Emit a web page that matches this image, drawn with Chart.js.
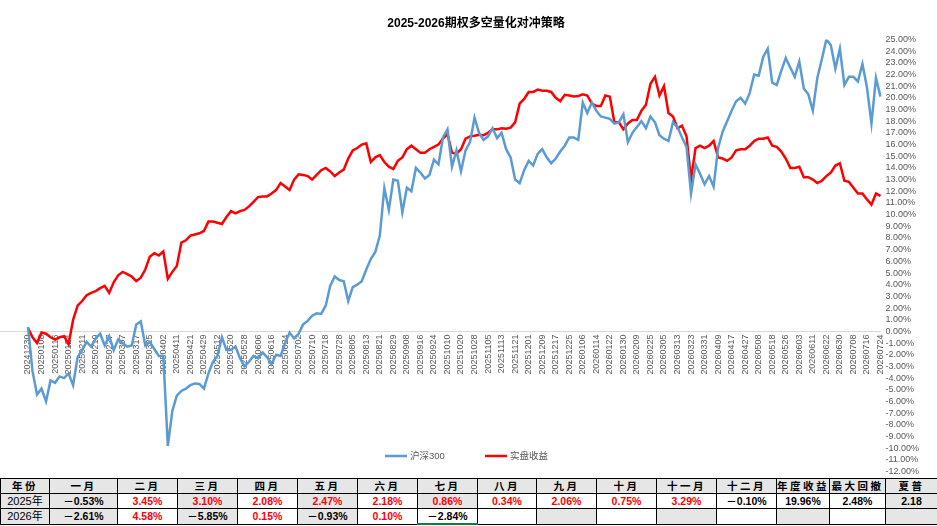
<!DOCTYPE html>
<html lang="zh">
<head>
  <meta charset="utf-8">
  <title>2025-2026期权多空量化对冲策略</title>
  <style type="text/css">
    body {
      margin: 0;
      background-color: #ffffff;
      font-family: 'Liberation Sans', 'Noto Sans CJK SC', sans-serif;
    }
    #wrap {
      position: absolute;
      left: 0;
      top: 0;
      width: 937px;
      height: 482px;
    }
    #tbl {
      position: absolute;
      left: 0;
      top: 478px;
      width: 937px;
      border-collapse: collapse;
      table-layout: fixed;
      background-color: #ffffff;
    }
    #tbl td {
      height: 14px;
      padding: 0;
      border: 1px solid #000000;
      text-align: center;
      font-weight: bold;
      font-size: 10.5px;
      line-height: 14px;
      white-space: nowrap;
      overflow: hidden;
    }
    #tbl tr.head td {
      background-color: #e6e6e6;
      font-family: 'Noto Sans CJK SC', sans-serif;
      font-size: 10.5px;
      letter-spacing: 2.5px;
    }
    #tbl td.year {
      font-weight: normal;
      font-size: 11px;
      font-family: 'Liberation Sans', 'Noto Sans CJK SC', sans-serif;
      letter-spacing: 0;
    }
    #tbl td.gray { background-color: #e6e6e6; }
    #tbl td.pos { color: #ff0000; }
    #tbl td.sel { border-bottom: 2px solid #107c41; }
  </style>
  <script src="https://cdn.jsdelivr.net/npm/chart.js@4.4.0/dist/chart.umd.min.js"></script>
</head>
<body>
  <div id="wrap"><canvas id="graph"></canvas></div>
  <table id="tbl"></table>
  <script>
    // x axis tick labels (one per 3 points)
    const dateTicks = ['20241230','20250108','20250116','20250124','20250211','20250219','20250227','20250307','20250317','20250325',
      '20250402','20250411','20250421','20250429','20250512','20250520','20250528','20250606','20250616','20250624',
      '20250702','20250710','20250718','20250728','20250805','20250813','20250821','20250829','20250908','20250916',
      '20250924','20251010','20251020','20251028','20251105','20251113','20251121','20251201','20251209','20251217',
      '20251225','20260106','20260114','20260122','20260130','20260209','20260225','20260305','20260313','20260323',
      '20260331','20260409','20260417','20260427','20260508','20260518','20260526','20260603','20260611','20260622',
      '20260630','20260708','20260716','20260724'];

    // 沪深300 (%)
    const hs300 = [0.4,-3.4,-5.4,-4.9,-6.0,-4.2,-4.4,-3.85,-4.0,-3.6,
      -4.6,-2.2,-1.6,-0.9,-1.3,-0.6,-0.2,-1.2,-0.4,-1.6,
      -0.7,-1.0,-1.3,-1.2,0.6,0.86,-1.2,-0.9,-1.5,-2.1,
      -2.1,-9.8,-6.8,-5.5,-5.1,-4.9,-4.6,-4.45,-4.5,-4.9,
      -3.6,-2.6,-2.1,-0.5,-1.6,-1.6,-1.3,-2.3,-3.0,-2.6,
      -2.1,-2.3,-1.8,-2.2,-2.8,-2.0,-2.1,-1.0,-0.1,-0.6,
      -0.2,0.6,0.9,1.35,1.55,1.5,2.2,3.9,4.7,4.4,
      4.3,2.6,3.8,4.0,4.3,5.3,6.2,6.8,8.2,12.27,
      10.4,13.0,12.9,10.2,12.3,12.0,14.0,13.6,13.1,13.4,
      14.7,14.3,16.6,17.3,14.1,15.5,13.7,15.5,16.2,18.3,
      17.0,16.4,16.7,17.4,16.55,17.0,15.6,14.9,13.0,12.7,
      13.8,14.6,14.2,15.2,15.6,14.9,14.4,14.8,15.4,15.9,
      16.6,16.6,16.4,19.6,18.7,19.6,18.9,18.4,18.3,18.2,
      17.8,17.9,18.6,16.2,17.0,17.5,18.0,17.4,18.4,17.9,
      16.8,16.5,16.3,17.9,17.5,16.6,15.8,11.8,14.3,13.5,
      12.6,13.3,12.4,15.7,17.1,18.0,18.9,19.7,20.0,19.5,
      20.4,22.0,21.9,23.5,24.2,21.3,21.1,22.3,23.4,22.6,
      21.8,23.1,20.8,20.3,18.9,21.7,23.3,25.0,24.5,22.5,
      24.2,21.1,21.8,21.8,21.4,22.9,20.9,17.8,21.7,20.1];

    // 实盘收益 (%)
    const live = [0.3,-0.5,-1.0,-0.1,-0.2,-0.5,-0.7,-0.5,-0.4,-1.1,
      1.0,2.2,2.6,3.1,3.3,3.45,3.7,3.9,3.3,4.2,
      4.8,5.1,4.9,4.7,4.3,4.6,5.3,6.4,6.7,6.5,
      6.85,4.5,5.1,5.6,7.6,7.8,8.2,8.3,8.4,8.6,
      9.4,9.4,9.3,9.2,9.8,10.3,10.1,10.3,10.4,10.7,
      11.1,11.5,11.56,11.56,11.8,12.1,12.7,12.4,12.1,13.0,
      13.45,13.4,13.3,13.0,13.4,13.8,14.0,13.7,13.3,13.6,
      13.85,14.8,15.5,15.7,16.0,16.1,14.5,14.9,15.1,14.5,
      14.1,13.9,14.6,14.9,15.6,15.9,15.6,15.3,15.3,15.6,
      15.8,16.0,16.5,16.9,15.3,15.2,15.6,16.5,16.7,16.75,
      16.84,16.8,17.0,17.3,17.3,17.4,17.35,17.45,17.9,19.5,
      19.9,20.5,20.5,20.7,20.6,20.6,20.5,20.0,19.7,20.26,
      20.2,20.12,20.15,20.3,20.2,19.5,19.3,19.3,20.2,20.1,
      17.9,17.9,17.3,17.8,18.1,18.1,18.9,19.4,21.2,21.8,
      20.2,21.0,18.7,18.4,17.4,17.6,16.7,13.0,15.7,15.9,
      15.7,15.9,16.3,14.9,14.8,14.6,14.9,15.5,15.6,15.6,
      15.9,16.3,16.5,16.5,16.6,15.9,15.8,15.4,14.8,14.0,
      14.0,14.1,13.2,13.2,13.0,12.7,12.9,13.3,13.6,14.2,
      14.4,12.9,12.8,12.3,11.8,11.8,11.3,10.85,11.8,11.6];

    // monthly table
    const months = ['一月','二月','三月','四月','五月','六月','七月','八月','九月','十月','十一月','十二月'];
    const statNames = ['年度收益','最大回撤','夏普'];
    const ret2025 = [-0.53, 3.45, 3.10, 2.08, 2.47, 2.18, 0.86, 0.34, 2.06, 0.75, 3.29, -0.10];
    const ret2026 = [-2.61, 4.58, -5.85, 0.15, -0.93, 0.10, -2.84];
    const stats2025 = ['19.96%', '2.48%', '2.18'];

    var labels = [];
    for (var i = 0; i < hs300.length; i++) {
      labels.push(i % 3 === 0 ? dateTicks[i / 3] : '');
    }

    const overlay = {
      id: 'overlay',
      beforeDatasetsDraw(chart) {
        const ctx = chart.ctx;
        const y0 = chart.scales.y.getPixelForValue(0);
        ctx.save();
        ctx.strokeStyle = '#d9d9d9';
        ctx.lineWidth = 1;
        ctx.beginPath();
        ctx.moveTo(0, Math.round(y0) + 0.5);
        ctx.lineTo(chart.chartArea.right, Math.round(y0) + 0.5);
        ctx.stroke();
        ctx.restore();
      },
      afterDraw(chart) {
        // legend below the lines, as in the sheet
        const ctx = chart.ctx;
        const items = [
          { text: '沪深300', color: '#5b9bd5', x: 385 },
          { text: '实盘收益', color: '#ff0000', x: 485 }
        ];
        ctx.save();
        ctx.font = "9.5px 'Liberation Sans', 'Noto Sans CJK SC', sans-serif";
        ctx.textBaseline = 'middle';
        items.forEach(function (it) {
          ctx.strokeStyle = it.color;
          ctx.lineWidth = 2.5;
          ctx.beginPath();
          ctx.moveTo(it.x, 456);
          ctx.lineTo(it.x + 22, 456);
          ctx.stroke();
          ctx.fillStyle = '#595959';
          ctx.fillText(it.text, it.x + 25, 456);
        });
        ctx.restore();
      }
    };

    const ctx = document.getElementById('graph').getContext('2d');
    window.myChart = new Chart(ctx, {
      type: 'line',
      data: {
        labels: labels,
        datasets: [
          { label: '沪深300', data: hs300, borderColor: '#5b9bd5', borderWidth: 2.5, pointRadius: 0, tension: 0 },
          { label: '实盘收益', data: live, borderColor: '#ff0000', borderWidth: 2.5, pointRadius: 0, tension: 0 }
        ]
      },
      options: {
        responsive: true,
        maintainAspectRatio: false,
        animation: false,
        layout: { padding: { left: 28, right: 13, top: 0, bottom: 4 } },
        scales: {
          x: {
            position: { y: 0 },
            offset: false,
            grid: { display: false, drawTicks: false },
            border: { display: false },
            ticks: {
              autoSkip: false,
              minRotation: 90,
              maxRotation: 90,
              padding: 3,
              color: '#595959',
              font: { size: 9, family: "'Liberation Sans', sans-serif" }
            }
          },
          y: {
            position: 'right',
            min: -12,
            max: 25,
            grid: { display: false, drawTicks: false },
            border: { display: false },
            ticks: {
              stepSize: 1,
              autoSkip: false,
              padding: 5,
              color: '#595959',
              font: { size: 9, family: "'Liberation Sans', sans-serif" },
              callback: function (v) { return v.toFixed(2) + '%'; }
            }
          }
        },
        plugins: {
          legend: { display: false },
          tooltip: { enabled: false },
          title: {
            display: true,
            text: '2025-2026期权多空量化对冲策略',
            color: '#000000',
            font: { size: 12, weight: 'bold', family: "'Liberation Sans', 'Noto Sans CJK SC', sans-serif" },
            padding: { top: 16, bottom: 9 }
          }
        }
      },
      plugins: [overlay]
    });

    // table
    function fmt(v) {
      return (v < 0 ? '－' + Math.abs(v).toFixed(2) : v.toFixed(2)) + '%';
    }
    var widths = [49, 68, 60, 60, 60, 60, 60, 60, 59, 60, 60, 60, 60, 53, 56, 52];
    var gray2025 = [0, 1, 3, 5, 7, 15];
    var gray2026 = [0, 1, 3, 5, 9, 11, 13, 15];
    var html = '<colgroup>' + widths.map(function (w) { return '<col style="width:' + w + 'px">'; }).join('') + '</colgroup>';
    html += '<tr class="head"><td>年份</td>' + months.concat(statNames).map(function (m) { return '<td>' + m + '</td>'; }).join('') + '</tr>';
    function row(year, rets, stats, grays) {
      var s = '<tr><td class="year gray">' + year + '</td>';
      for (var c = 0; c < 15; c++) {
        var cls = [];
        if (grays.indexOf(c + 1) >= 0) cls.push('gray');
        var txt = '';
        if (c < 12 && c < rets.length) {
          txt = fmt(rets[c]);
          if (rets[c] > 0) cls.push('pos');
        } else if (c >= 12 && stats) {
          txt = stats[c - 12];
        }
        if (year === '2026年' && c === 6) cls.push('sel');
        s += '<td class="' + cls.join(' ') + '">' + txt + '</td>';
      }
      return s + '</tr>';
    }
    html += row('2025年', ret2025, stats2025, gray2025);
    html += row('2026年', ret2026, null, gray2026);
    document.getElementById('tbl').innerHTML = html;
  </script>
</body>
</html>
